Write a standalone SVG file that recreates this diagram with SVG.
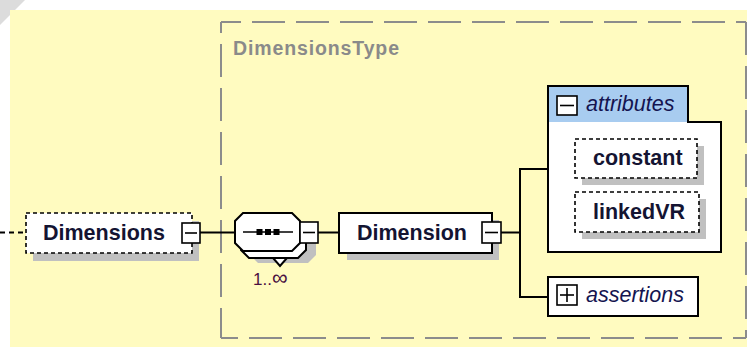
<svg xmlns="http://www.w3.org/2000/svg" width="747" height="347" viewBox="0 0 747 347">
<style>
.bg{fill:#FFFBC0}
.frame{fill:none;stroke:#8c8c8c;stroke-width:2;stroke-dasharray:33 11}
.conn{stroke:#000;stroke-width:2;fill:none}
.box{fill:#fff;stroke:#000;stroke-width:2}
.dbox{fill:#fff;stroke:#000;stroke-width:1.6;stroke-dasharray:4 3}
.shadow{fill:#c0c0c0}
.btn{fill:#fff;stroke:#000;stroke-width:1.6}
.sym{stroke:#000;stroke-width:1.6}
.lbl{font-family:"Liberation Sans",Arial,sans-serif;font-size:21.5px;font-weight:bold;fill:#141432}
.ital{font-family:"Liberation Sans",Arial,sans-serif;font-size:21.5px;font-style:italic;fill:#141450}
.type{font-family:"Liberation Sans",Arial,sans-serif;font-size:19.5px;font-weight:bold;fill:#8a8a8a}
.occ{font-family:"Liberation Sans",Arial,sans-serif;font-size:17px;fill:#4a1040}
</style>
<rect width="747" height="347" fill="#fff"/>
<polygon points="0,0 25,0 0,25" fill="#dcdcdc"/>
<rect class="bg" x="10" y="10" width="737" height="337"/>

<g id="complexType">
<path class="frame" d="M221,22 H746" stroke-dashoffset="13"/>
<path class="frame" d="M221,22 V338" stroke-dashoffset="22"/>
<path class="frame" d="M221,338 H746" stroke-dashoffset="16"/>
<path class="frame" d="M746,22 V338" stroke-dashoffset="0"/>
<text class="type" x="233" y="55" textLength="166" lengthAdjust="spacing">DimensionsType</text>
</g>

<g id="connectors">
<line class="conn" x1="0" y1="232.5" x2="26" y2="232.5" stroke-dasharray="5 4"/>
<line class="conn" x1="200" y1="232.5" x2="235" y2="232.5"/>
<line class="conn" x1="318" y1="232.5" x2="339" y2="232.5"/>
<line class="conn" x1="501" y1="232.5" x2="521" y2="232.5"/>
<line class="conn" x1="520" y1="168" x2="520" y2="298"/>
<line class="conn" x1="519" y1="169" x2="548" y2="169"/>
<line class="conn" x1="519" y1="297" x2="548" y2="297"/>
</g>

<g id="Dimensions">
<rect class="shadow" x="33" y="221" width="166" height="40"/>
<rect class="dbox" x="26" y="213" width="166" height="40"/>
<text class="lbl" x="43" y="240">Dimensions</text>
<rect class="btn" x="182" y="223" width="18" height="20"/>
<line class="sym" x1="185" y1="233" x2="197" y2="233"/>
</g>

<g id="sequence">
<polygon class="shadow" points="258,225 308,225 316,233 316,255 308,263 258,263 250,255 250,233"/>
<polygon class="box" points="249,220 298,220 306,228 306,250 298,258 249,258 241,250 241,228" stroke-width="1.6"/>
<polygon class="box" points="273,258 287,258 280,266" stroke-width="1.4"/>
<polygon class="box" points="243,213 292,213 300,221 300,243 292,251 243,251 235,243 235,221" stroke-width="1.6"/>
<line class="sym" x1="243" y1="232" x2="293" y2="232"/>
<rect x="256.5" y="229" width="6" height="6" fill="#000"/>
<rect x="265" y="229" width="6" height="6" fill="#000"/>
<rect x="273.5" y="229" width="6" height="6" fill="#000"/>
<rect class="btn" x="300" y="222" width="18" height="21"/>
<line class="sym" x1="303" y1="232.5" x2="315" y2="232.5"/>
<text class="occ" x="253" y="285">1..<tspan font-size="22">∞</tspan></text>
</g>

<g id="Dimension">
<rect class="shadow" x="347" y="220" width="152" height="40"/>
<rect class="box" x="339" y="213" width="153" height="40"/>
<text class="lbl" x="357" y="240">Dimension</text>
<rect class="btn" x="482" y="222" width="19" height="21"/>
<line class="sym" x1="485" y1="232.5" x2="498" y2="232.5"/>
</g>

<g id="attributes">
<path class="box" d="M548,86 H688 V122 H721 V252 H548 Z"/>
<rect x="549" y="87" width="138" height="35" fill="#A8CCF0"/>
<rect class="btn" x="557" y="96" width="20" height="19"/>
<line class="sym" x1="560" y1="105.5" x2="574" y2="105.5"/>
<text class="ital" x="586" y="111">attributes</text>
</g>

<g id="constant">
<rect class="shadow" x="582" y="146" width="122" height="39"/>
<rect class="dbox" x="575" y="139" width="122" height="39"/>
<text class="lbl" x="593" y="165">constant</text>
</g>

<g id="linkedVR">
<rect class="shadow" x="582" y="199" width="124" height="40"/>
<rect class="dbox" x="575" y="192" width="124" height="40"/>
<text class="lbl" x="593" y="219">linkedVR</text>
</g>

<g id="assertions">
<rect class="box" x="548" y="277" width="150" height="39"/>
<rect class="btn" x="557" y="285" width="20" height="20"/>
<line class="sym" x1="560" y1="295" x2="574" y2="295"/>
<line class="sym" x1="567" y1="288" x2="567" y2="302"/>
<text class="ital" x="586" y="302">assertions</text>
</g>
</svg>
